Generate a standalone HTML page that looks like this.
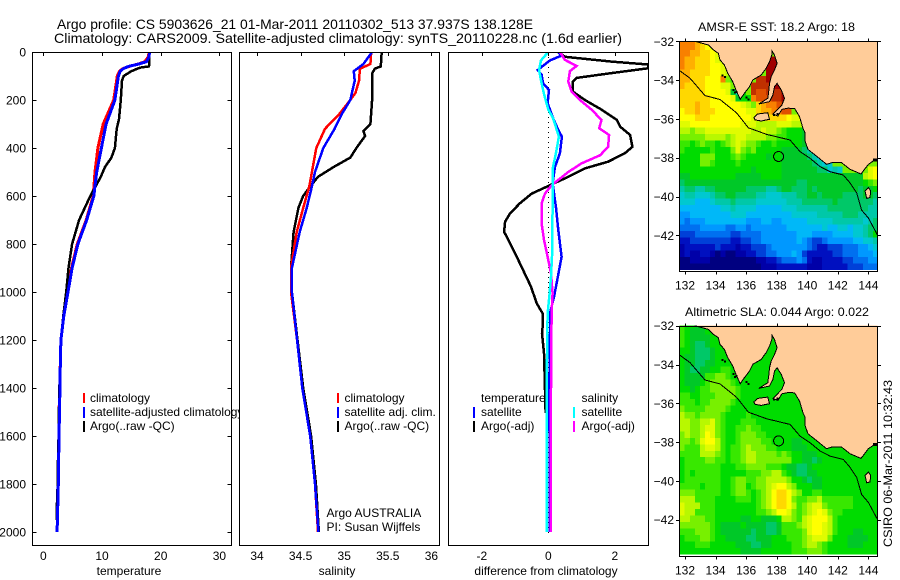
<!DOCTYPE html>
<html lang="en">
<head>
<meta charset="utf-8">
<title>Argo profile CS 5903626_21</title>
<style>
html,body{margin:0;padding:0;background:#fff;}
svg{display:block;}
text{font-family:"Liberation Sans",sans-serif;font-size:12px;fill:#000;}
.title{font-size:14px;}
</style>
</head>
<body>
<svg xmlns="http://www.w3.org/2000/svg" width="900" height="580" viewBox="0 0 900 580">
<defs>
<clipPath id="clip-temp"><rect x="32.5" y="52.5" width="199" height="493"/></clipPath>
<clipPath id="clip-sal"><rect x="239.5" y="52.5" width="200" height="493"/></clipPath>
<clipPath id="clip-diff"><rect x="448.5" y="52.5" width="200" height="493"/></clipPath>
<clipPath id="clip-map-sst"><rect x="679.5" y="41.5" width="198" height="230"/></clipPath>
<clipPath id="clip-map-sla"><rect x="679.5" y="325.5" width="198" height="231"/></clipPath>
</defs>

<text class="title" x="57" y="29" textLength="476" lengthAdjust="spacingAndGlyphs">Argo profile: CS 5903626_21 01-Mar-2011 20110302_513 37.937S 138.128E</text>
<text class="title" x="54" y="43" textLength="568" lengthAdjust="spacingAndGlyphs">Climatology: CARS2009. Satellite-adjusted climatology: synTS_20110228.nc (1.6d earlier)</text>

<g id="panel-temp">
  <g id="temp-marks" clip-path="url(#clip-temp)"></g>
  <g id="temp-axis"></g>
  <g>
    <rect x="83" y="393" width="2" height="10" fill="#f00"/>
    <text x="90" y="402">climatology</text>
    <rect x="83" y="407" width="2" height="11" fill="#00f"/>
    <text x="90" y="416">satellite-adjusted climatology</text>
    <rect x="83" y="421" width="2" height="11" fill="#000"/>
    <text x="90" y="430">Argo(..raw -QC)</text>
  </g>
  <text x="129" y="575" text-anchor="middle">temperature</text>
</g>

<g id="panel-sal">
  <rect x="239.5" y="52.5" width="200" height="493" fill="#fff"/>
  <g id="sal-marks" clip-path="url(#clip-sal)"></g>
  <g id="sal-axis"></g>
  <g>
    <rect x="337" y="393" width="2" height="10" fill="#f00"/>
    <text x="344.5" y="402">climatology</text>
    <rect x="337" y="407" width="2" height="11" fill="#00f"/>
    <text x="344.5" y="416">satellite adj. clim.</text>
    <rect x="337" y="421" width="2" height="11" fill="#000"/>
    <text x="344.5" y="430">Argo(..raw -QC)</text>
    <text x="326.5" y="517">Argo AUSTRALIA</text>
    <text x="326.5" y="531">PI: Susan Wijffels</text>
  </g>
  <text x="337" y="575" text-anchor="middle">salinity</text>
</g>

<g id="panel-diff">
  <g id="diff-marks" clip-path="url(#clip-diff)"></g>
  <g id="diff-axis"></g>
  <g>
    <text x="481" y="402">temperature</text>
    <rect x="473" y="407" width="2" height="11" fill="#00f"/>
    <text x="481" y="416">satellite</text>
    <rect x="473" y="421" width="2" height="11" fill="#000"/>
    <text x="481" y="430">Argo(-adj)</text>
    <text x="581.5" y="402">salinity</text>
    <rect x="573" y="407" width="2" height="11" fill="#0ff"/>
    <text x="581.5" y="416">satellite</text>
    <rect x="573" y="421" width="2" height="11" fill="#f0f"/>
    <text x="581.5" y="430">Argo(-adj)</text>
  </g>
  <text x="546" y="575" text-anchor="middle">difference from climatology</text>
</g>

<g id="map-sst">
  <g id="map-sst-body" clip-path="url(#clip-map-sst)"></g>
  <g id="map-sst-axis"></g>
  <text x="776.5" y="31" text-anchor="middle" textLength="157" lengthAdjust="spacingAndGlyphs">AMSR-E SST: 18.2 Argo: 18</text>
</g>

<g id="map-sla">
  <g id="map-sla-body" clip-path="url(#clip-map-sla)"></g>
  <g id="map-sla-axis"></g>
  <text x="777" y="316" text-anchor="middle" textLength="184" lengthAdjust="spacingAndGlyphs">Altimetric SLA: 0.044 Argo: 0.022</text>
</g>

<text transform="translate(892,547) rotate(-90)" textLength="167" lengthAdjust="spacingAndGlyphs">CSIRO 06-Mar-2011 10:32:43</text>
</svg>

<script>
// ---- profile data ----
const depthTicks = [0,200,400,600,800,1000,1200,1400,1600,1800,2000];
const tempTicks = [0,10,20,30];
const salTicks = [34,34.5,35,35.5,36];
const diffTicks = [-2,0,2];

const tempClimDepth = [0,20,40,50,60,70,80,100,200,300,400,500,600,700,800,900,1000,1100,1200,1300,1400,1500,1600,1700,1800,1900,2000];
const tempClim = [18.0,17.9,17.3,16.2,14.6,13.5,13.0,12.6,12.0,10.2,9.3,8.8,8.5,7.3,5.8,4.8,4.1,3.5,3.0,2.9,2.8,2.7,2.65,2.6,2.55,2.45,2.35];
const tempSatDepth = [0,20,40,50,60,70,80,100,200,300,400,500,600,700,800,900,1000,1100,1200,1300,1400,1500,1600,1700,1800,1900,2000];
const tempSat = [18.1,18.0,17.6,16.3,14.5,13.6,13.1,12.8,12.2,10.7,9.9,9.1,8.6,7.4,5.9,4.9,4.2,3.5,3.0,2.9,2.85,2.75,2.7,2.6,2.55,2.45,2.35];
const tempArgoDepth = [0,60,65,80,100,120,200,280,320,400,440,480,520,600,700,800,900,1000,1100,1200,1400,1500,1600,1700,1800,1900,1950];
const tempArgo = [18.1,18.0,16.5,15.0,13.7,13.4,13.2,12.9,12.5,12.2,11.6,10.5,9.8,8.0,6.1,4.9,4.3,3.9,3.4,3.0,2.75,2.65,2.6,2.5,2.45,2.3,2.3];

const salClimDepth = [0,50,70,120,170,200,260,320,400,500,560,650,750,900,1000,1200,1400,1600,1800,2000];
const salClim = [35.31,35.30,35.18,35.17,35.13,35.07,34.94,34.78,34.68,34.63,34.60,34.53,34.455,34.39,34.39,34.46,34.52,34.61,34.665,34.70];
const salSatDepth = [0,50,80,120,200,260,320,400,500,560,650,750,900,1000,1200,1400,1600,1800,2000];
const salSat = [35.32,35.22,35.11,35.12,35.07,34.97,34.89,34.76,34.665,34.63,34.57,34.49,34.40,34.40,34.46,34.52,34.61,34.665,34.705];
const salArgoDepth = [0,60,70,90,200,300,330,350,400,440,480,520,560,600,650,750,900,1000,1200,1400,1600,1800,2000];
const salArgo = [35.43,35.42,35.35,35.32,35.32,35.30,35.22,35.24,35.14,35.07,34.875,34.70,34.61,34.53,34.475,34.42,34.39,34.40,34.465,34.53,34.62,34.675,34.71];

const diffTempArgoDepth = [0,20,40,52,68,88,108,125,165,200,240,283,311,346,395,422,457,485,520,555,590,630,672,707,749,783,838,908,978,1047,1089,1130,1172,1255,1408,1505];
const diffTempArgo = [0.3,0.5,1.9,3.0,3.0,1.9,0.85,0.73,0.74,1.1,1.6,2.06,2.16,2.46,2.53,2.3,1.8,1.1,0.6,0.05,-0.5,-0.85,-1.15,-1.3,-1.33,-1.2,-1.0,-0.76,-0.52,-0.35,-0.17,-0.16,-0.19,-0.13,-0.1,-0.08];
const diffTempSatDepth = [0,15,35,75,95,130,158,213,275,325,353,422,480,547,645,742,853,936,1020,1089,1172,1408,2000];
const diffTempSat = [0.3,0.4,0.05,-0.32,-0.2,-0.16,0.02,-0.02,0.14,0.3,0.41,0.35,0.2,0.13,0.23,0.3,0.4,0.29,0.17,0.05,0.05,0.03,0.05];
const diffSalSatDepth = [0,35,75,130,175,240,275,353,422,480,645,853,936,1020,1089,1408,2000];
const diffSalSat = [0,-0.22,-0.28,-0.2,-0.13,0,0.14,0.32,0.23,0.14,0.13,0.11,0.08,0.03,-0.02,-0.05,-0.04];
const diffSalArgoDepth = [0,33,58,80,123,165,200,240,283,318,346,395,430,464,500,555,590,630,714,783,853,922,1005,1089,1408,2000];
const diffSalArgo = [0.35,0.5,0.85,0.65,0.6,0.7,0.95,1.3,1.6,1.53,1.83,1.8,1.56,1.0,0.6,0.1,-0.1,-0.2,-0.2,-0.13,-0.02,0.08,0.13,0.1,0.08,0.07];

// ---- map data (colour-level codes) ----
const levelColours = {a:'#000080',b:'#0000a8',c:'#0010c0',d:'#0040d8',e:'#0070f0',f:'#0098ff',g:'#00b8f8',h:'#00c8d0',i:'#00c8a8',j:'#00c868',k:'#00c828',l:'#00dc00',m:'#38e800',n:'#78f000',o:'#b8f800',p:'#e0fc00',q:'#ffff00',r:'#ffd800',s:'#ffb000',t:'#f88000',u:'#e05000',v:'#c03000',w:'#a00000'};

const sstRows = [
"tttsrqponn nnnnnnnnnn nnnnnnnnnn nnnnnnnnn",
"tttsrqponn nnnnnnnnnn nnnnnnnnnn nnnnnnnnn",
"ttssrrqpon nnnnnnnnnn nnnnnnnnnn nnnnnnnnn",
"tssrrrqpon nnnnnnnwww nnnnnnnnnn nnnnnnnnn",
"tssrrrqqpo nnnnnnnwww nnnnnnnnnn nnnnnnnnn",
"ssrrrrqqpo nmmnnnnwww nnnnnnnnnn nnnnnnnnn",
"ssrrrqqqtn mmnnnvvwww nnnnnnnnnn nnnnnnnnn",
"srrrrqqqpp nlmnvvvvww wnnnnnnnnn nnnnnnnnn",
"rrrrrqqqqp kilnvuuvvv wwnnnnnnnn nnnnnnnnn",
"rrrrrrqqqq pklltuuuvv wwnnnnnnnn nnnnnnnnn",
"rrrsrrqqqq qqponrsttu vvnnnnnnnn nnnnnnnnn",
"qrrsrrrqqq qqqpprsstt uunnnnnnnn nnnnnnnnn",
"qqqrrrqqqq qqqqprrrrr rqpppnnnnn nnnnnnnnn",
"ppqqqqqqqq qqpppoooop ppoomnnnnn nnnnnnnnn",
"oonooppppp ppppoopoon mlllkjnnnn nnnnnnnnn",
"nnnnnoooon oppoooonnm mlllkijnnn nnnnnnnnn",
"mmlmnmmlmn oponnmllml llllkjihnn nnnnnnnnn",
"mlllllmlll npnmnlllll kkkkjihhnn nnnnnnnnn",
"llllnnnlll mnmllllkll kkkkkjihnn nnnnnnnnn",
"llllnnmlll lmllllllll kkkkkkjihh nnnnnnnnn",
"llllllllll llllklllll kkkkkkkjjh ihnnnnnpq",
"kkllllllll lkkkkkllll kkkkkkkkkk kkkkkkopq",
"jkkkkkkkkk kkkkkkkkkk kkkjjkkkkk kkkkkklmn",
"ijjiijjkkk kkkjjjjiij kkjjjkjkkk kkkkkjkkl",
"hiihhhijjk kjjjjiihhh iiijjkkjkk kkjjjjkkj",
"hhhggghiii jiiiihhhhh hiiijjjjjj kjjjjjjji",
"gggggggghh ihhhhggggg hhhiiiiiij jjjjjjjii",
"ffgggggggg hhhggggggg gghhhhhiii iijjjiiii",
"fefffggggg gggfffggff ggggghhhhh iiiiiihij",
"eeeefffffe effeffffff fggggggghg ghhghhijj",
"dddeeeeeee ddeeeeffff fffgggffff gggghhijl",
"ccdddddddd ccddeeffff fffgfeddef ffffgghhi",
"bccccccdcc cbccdddeff fffffedccd ddeeeffgh",
"bcbbccbaba abbccddeef ffgfdccccc ddeeefffg",
"aabbbbaaaa aaaaabbccd eeefecbbcc ccddeeeff",
"aaaaaaaaaa aaaaaabbbc cccccbbbcc cccdddeee"
];

const slaRows = [
"mllkllllll llllllllll llllllllll lllllllll",
"mlkkklllll llllllllll llllllllll lllllllll",
"mlkkkkllll llllllllll llllllllll lllllllll",
"mlkjjkllll llllllllll llllllllll lllllllll",
"llkjjjklll llllllllll llllllllll lllllllll",
"lkkjjjklll llllllllll llllllllll lllllllll",
"lkkjjkklll llllllllll llllllllll lllllllll",
"lkjjkkllmm llllllllll llllllllll lllllllll",
"lkkkkmmnnm llllllllll llllllllll lllllllll",
"lkkklmnnnn mlllllllll llllllllll lllllllll",
"llklmmnnnn nmllllllll llllllllll lllllllll",
"mmllmmmnnn nmllllllll llllllllll lllllllll",
"mmmlmmnnnn mlllllllll llllllllll lllllllll",
"nmmmmnnnnm llllllllll llllllllll lllllllll",
"onnmnnnnml lllmllllll llllllllll lllllllll",
"oonnoopnml llmmmlllll llllllllll lllllllll",
"oonnoppnml lmmnmmllll llllllllll lllllllll",
"nonnoqpnml lmnnnmmlll llllllllll lllllllll",
"nnmnpqqoml lmnnnnmmll llkkllllll lllllllll",
"nmmmoppoml mmnonnnmml llkkklllll lllllllll",
"mmmmooonml mmnoonnnnm nmllkkklll lllllllll",
"lmmmmnnmml mmnoonnnnn nnllkkjkll lllllllll",
"lmmmmmmmll lmmnnnnmmm lkkjjkllll lllllllll",
"lmlmmmmmll lllmmmnnoo mlkjjkklll lllllllll",
"lmmmmmmmll mnnmmnnooo onllkjkkll lllllllll",
"mmmmlmmmll mnnlmnnopq qonlllkkll lllllllll",
"nnnmmmmmll mnnmlmnoqr rqonllmmll lllllllll",
"ooommmmlll lmmmlmnoqr rqnmmnnomm mmmmlllll",
"pooommmlll lllllmnoqr rqomnoppnm mmmmlllll",
"poommmmlll lllllmmnoq qpnmnopqpn mmlllllll",
"oonnnmmlll llkkllkkkl oonmopqqqo mllllllll",
"nnnnnnmlkk kklkkkkjjk mmmnopqqpo mllllllll",
"mmmnnnmlkk kkkkjkkjjk mmmmnpqqpo mlllkklll",
"lmmmnnmllk kkkjjkkkll lmmmnopppn lllkkkkll",
"lllmmmllll lkkkjjkkll llmmnoonml lllkkklll",
"llllllllll llkkkkllll llmmmnnnml lllllllll"
];

// ---- coast data in degrees ----
const coastLon = [132.65,132.98,133.53,133.85,134.18,134.29,134.58,134.80,135.13,135.34,135.61,135.89,136.22,136.44,136.98,137.31,137.53,137.68,137.70,137.86,138.03,137.86,137.64,137.53,137.49,137.42,136.83,137.53,137.75,137.86,138.03,138.30,138.51,138.34,137.97,137.75,138.08,138.34,138.73,139.17,139.50,139.72,139.86,139.86,140.05,140.6,141.27,141.6,142.25,142.8,143.52,144.0,144.32,144.8,144.8,132.65];
const coastLat = [-32,-32.07,-32.19,-32.44,-32.62,-32.96,-33.22,-33.65,-34.08,-34.51,-34.99,-34.68,-34.34,-33.99,-33.74,-33.39,-33.05,-32.71,-32.50,-32.71,-33.14,-33.48,-33.82,-34.17,-34.51,-34.94,-35.23,-35.11,-34.77,-34.34,-34.17,-34.51,-34.94,-35.28,-35.58,-35.75,-35.85,-35.51,-35.45,-35.46,-35.89,-36.49,-36.72,-37.15,-37.57,-37.92,-38.34,-38.26,-38.26,-38.6,-38.84,-38.34,-38.17,-38.17,-31.8,-31.8];
const kangarooLon = [136.5,136.76,137.42,137.53,136.98,136.59];
const kangarooLat = [-35.93,-35.75,-35.68,-36.02,-36.11,-36.05];
const kingLon = [143.78,144.0,144.15,144.11,143.89];
const kingLat = [-39.71,-39.54,-39.71,-40.05,-40.1];
const shelfLon = [131.63,132.33,133.31,134.29,135.38,136.15,137.35,138.87,139.53,140.18,140.84,141.49,142.36,142.8,143.24,143.56,144.0,144.59];
const shelfLat = [-33.5,-33.9,-34.8,-35.0,-35.69,-36.46,-36.8,-37.09,-37.69,-38.03,-38.46,-38.72,-38.89,-39.3,-39.82,-40.7,-41.11,-41.98];
const isletLon = [134.4,134.55,135.1,135.2,135.3,135.95,136.1,137.75,138.0,144.3,144.45];
const isletLat = [-33.72,-33.8,-34.45,-34.6,-34.55,-34.85,-34.95,-35.75,-35.7,-38.05,-38.05];
const floatLon = [138.128];
const floatLat = [-37.937];
const latTicks = [-32,-34,-36,-38,-40,-42];
const lonTicks = [132,134,136,138,140,142,144];

// ---- helpers ----
const NS = 'http://www.w3.org/2000/svg';
function svgEl(tag, attrs){
  const el = document.createElementNS(NS, tag);
  for (const k in attrs) el.setAttribute(k, attrs[k]);
  return el;
}
const depthToY = d => 52 + d * 0.24;
const tempToX = v => 43.3 + v * 5.87;
const salToX = v => 257 + (v - 34) * 87.2;
const diffToX = v => 548.3 + v * 33.25;

function linePoints(depths, values, xf){
  return values.map((v,i) => xf(v).toFixed(1) + ',' + depthToY(depths[i]).toFixed(1)).join(' ');
}
function drawSeries(groupId, name, depths, values, xf, colour, width){
  const line = svgEl('polyline', {points: linePoints(depths, values, xf), fill:'none', stroke:colour, 'stroke-width':width, 'shape-rendering':'crispEdges'});
  
  
  document.getElementById(groupId).appendChild(line);
}
function drawFrame(parent, x0, x1, y0, y1, name){
  const f = svgEl('rect', {x:x0, y:y0, width:x1-x0, height:y1-y0, fill:'none', stroke:'#000', 'stroke-width':1, 'shape-rendering':'crispEdges'});
  
  
  parent.appendChild(f);
}
function drawTick(parent, x1, y1, x2, y2){
  const t = svgEl('line', {x1:x1, y1:y1, x2:x2, y2:y2, stroke:'#000', 'stroke-width':1, 'shape-rendering':'crispEdges'});
  
  
  parent.appendChild(t);
}
function drawLabel(parent, x, y, anchor, str){
  const t = svgEl('text', {x:x, y:y, 'text-anchor':anchor});
  t.textContent = str;
  
  
  parent.appendChild(t);
}

// ---- profile axes ----
function profileAxes(id, x0, x1, xticks, xf, withDepth){
  const g = document.getElementById(id);
  drawFrame(g, x0, x1, 52.5, 545.5, 'plot-frame');
  xticks.forEach(v => {
    const x = Math.round(xf(v)) + 0.5;
    drawTick(g, x, 52.5, x, 56);
    drawLabel(g, xf(v), 560, 'middle', String(v));
  });
  if (withDepth) depthTicks.forEach(d => {
    const y = Math.round(depthToY(d)) + 0.5;
    drawTick(g, x0, y, x0 + 4, y);
    drawTick(g, x1 - 4, y, x1, y);
    drawLabel(g, 26, depthToY(d) + 4.5, 'end', String(d));
  });
}
profileAxes('temp-axis', 32.5, 231.5, tempTicks, tempToX, true);
profileAxes('sal-axis', 239.5, 439.5, salTicks, salToX, false);
profileAxes('diff-axis', 448.5, 648.5, diffTicks, diffToX, false);

drawSeries('temp-marks', 'temperature-climatology-line', tempClimDepth, tempClim, tempToX, '#f00', 3);
drawSeries('temp-marks', 'temperature-argo-line', tempArgoDepth, tempArgo, tempToX, '#000', 2.5);
drawSeries('temp-marks', 'temperature-satellite-line', tempSatDepth, tempSat, tempToX, '#00f', 3);

drawSeries('sal-marks', 'salinity-argo-line', salArgoDepth, salArgo, salToX, '#000', 2.5);
drawSeries('sal-marks', 'salinity-climatology-line', salClimDepth, salClim, salToX, '#f00', 2.5);
drawSeries('sal-marks', 'salinity-satellite-line', salSatDepth, salSat, salToX, '#00f', 2.5);

const zeroLine = svgEl('line', {x1:diffToX(0), y1:depthToY(0), x2:diffToX(0), y2:depthToY(2020), stroke:'#000', 'stroke-width':1, 'stroke-dasharray':'1 4', 'shape-rendering':'crispEdges'});


document.getElementById('diff-marks').appendChild(zeroLine);

drawSeries('diff-marks', 'diff-temperature-argo-line', diffTempArgoDepth, diffTempArgo, diffToX, '#000', 2.5);
drawSeries('diff-marks', 'diff-temperature-satellite-line', diffTempSatDepth, diffTempSat, diffToX, '#00f', 2.5);
drawSeries('diff-marks', 'diff-salinity-argo-line', diffSalArgoDepth, diffSalArgo, diffToX, '#f0f', 2.5);
drawSeries('diff-marks', 'diff-salinity-satellite-line', diffSalSatDepth, diffSalSat, diffToX, '#0ff', 2.5);

// ---- maps ----
function drawMap(bodyId, axisId, rows, latTop, yBottom, prefix){
  const body = document.getElementById(bodyId);
  const axis = document.getElementById(axisId);
  const lonX = lon => 685 + (lon - 132) * 15.28;
  const latY = lat => latTop + (-32 - lat) * 19.4;
  const pts = (lons, lats) => lons.map((v,i) => lonX(v).toFixed(1) + ',' + latY(lats[i]).toFixed(1)).join(' ');
  const firstLon = 131.646, bottomLat = -43.78, step = 1/3;

  rows.forEach((rowStr, r) => {
    const codes = rowStr.replace(/ /g, '');
    const south = bottomLat + (rows.length - 1 - r) * step;
    for (let c = 0; c < codes.length; c++) {
      const west = firstLon + c * step;
      const xa = lonX(west), xb = lonX(west + step), ya = latY(south + step), yb = latY(south);
      const cell = svgEl('rect', {x:xa.toFixed(2), y:ya.toFixed(2), width:(xb-xa+0.4).toFixed(2), height:(yb-ya+0.4).toFixed(2), fill:levelColours[codes[c]], 'shape-rendering':'crispEdges'});
      
      
      body.appendChild(cell);
    }
  });

  const land = svgEl('polygon', {points:pts(coastLon, coastLat), fill:'#ffcc99', stroke:'#000', 'stroke-width':1, 'shape-rendering':'crispEdges'});
  
  
  body.appendChild(land);

  const kangaroo = svgEl('polygon', {points:pts(kangarooLon, kangarooLat), fill:'#ffcc99', stroke:'#000', 'stroke-width':1, 'shape-rendering':'crispEdges'});
  
  
  body.appendChild(kangaroo);

  const king = svgEl('polygon', {points:pts(kingLon, kingLat), fill:'#ffcc99', stroke:'#000', 'stroke-width':1, 'shape-rendering':'crispEdges'});
  
  
  body.appendChild(king);

  isletLon.forEach((lon, i) => {
    const dot = svgEl('rect', {x:lonX(lon).toFixed(1), y:latY(isletLat[i]).toFixed(1), width:2, height:2, fill:'#000', 'shape-rendering':'crispEdges'});
    
    
    body.appendChild(dot);
  });

  const shelf = svgEl('polyline', {points:pts(shelfLon, shelfLat), fill:'none', stroke:'#000', 'stroke-width':1, 'shape-rendering':'crispEdges'});
  
  
  body.appendChild(shelf);

  const marker = svgEl('circle', {cx:lonX(floatLon[0]).toFixed(1), cy:latY(floatLat[0]).toFixed(1), r:5, fill:'none', stroke:'#000', 'stroke-width':1, 'shape-rendering':'crispEdges'});
  
  
  body.appendChild(marker);

  const top = Math.round(latTop) + 0.5;
  drawFrame(axis, 679.5, 877.5, top, yBottom, prefix + '-map-frame');
  latTicks.forEach(lat => {
    const y = Math.round(latY(lat)) + 0.5;
    drawTick(axis, 676, y, 679.5, y);
    drawTick(axis, 877.5, y, 881, y);
    drawLabel(axis, 674, latY(lat) + 4.5, 'end', '\u2212' + Math.abs(lat));
  });
  lonTicks.forEach(lon => {
    const x = Math.round(lonX(lon)) + 0.5;
    drawTick(axis, x, top - 3, x, top);
    drawTick(axis, x, yBottom, x, yBottom + 3);
    drawLabel(axis, lonX(lon), yBottom + 18, 'middle', String(lon));
  });
}
drawMap('map-sst-body', 'map-sst-axis', sstRows, 41.3, 271.5, 'sst');
drawMap('map-sla-body', 'map-sla-axis', slaRows, 325.7, 556.5, 'sla');
</script>
</body>
</html>
